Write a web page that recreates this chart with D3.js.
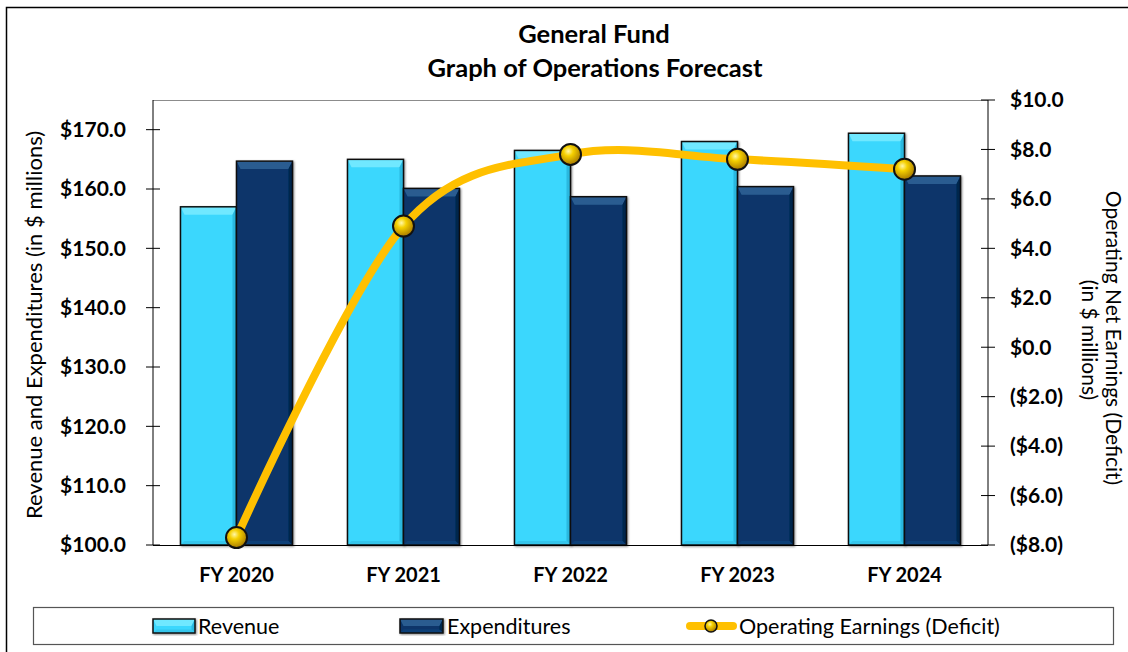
<!DOCTYPE html>
<html>
<head>
<meta charset="utf-8">
<script src="https://cdn.jsdelivr.net/npm/d3@7"></script>
<style>
  body { margin: 0; background: #fff; }
  svg text { font-family: "Lato", "Liberation Sans", sans-serif; fill: #000; }
</style>
</head>
<body>
<div id="chart"></div>
<script>
// chart data
var years = ["FY 2020", "FY 2021", "FY 2022", "FY 2023", "FY 2024"];
var revenue = [157.0, 165.0, 166.5, 168.0, 169.4];
var expenditures = [164.7, 160.1, 158.7, 160.4, 162.2];
var earnings = [-7.7, 4.9, 7.8, 7.6, 7.2];
var leftTicks = [100, 110, 120, 130, 140, 150, 160, 170];
var rightTicks = [-8, -6, -4, -2, 0, 2, 4, 6, 8, 10];

var W = 1128, H = 652;
var plot = {left: 153, right: 988, top: 100, bottom: 545};

var svg = d3.select("#chart").append("svg")
    .attr("width", W).attr("height", H);

var defs = svg.append("defs");
var ball = defs.append("radialGradient").attr("id", "ball")
    .attr("cx", "40%").attr("cy", "35%").attr("r", "65%");
ball.append("stop").attr("offset", "0%").attr("stop-color", "#fff7a8");
ball.append("stop").attr("offset", "35%").attr("stop-color", "#f5d000");
ball.append("stop").attr("offset", "100%").attr("stop-color", "#a87a00");

var shadow = defs.append("filter").attr("id", "shadow")
    .attr("x", "-20%").attr("y", "-20%").attr("width", "140%").attr("height", "140%");
shadow.append("feDropShadow").attr("dx", 1).attr("dy", 1).attr("stdDeviation", 1.2)
    .attr("flood-color", "#000").attr("flood-opacity", 0.45);

// outer chart frame (runs off the right and bottom)
svg.append("rect").attr("x", 6.5).attr("y", 7.5).attr("width", 1140).attr("height", 660)
    .attr("fill", "none").attr("stroke", "#000").attr("stroke-width", 1.5);

// title
svg.append("text").attr("x", 594).attr("y", 43).attr("text-anchor", "middle")
    .style("font-size", "25.5px").style("font-weight", "bold").text("General Fund");
svg.append("text").attr("x", 595).attr("y", 77).attr("text-anchor", "middle")
    .style("font-size", "25.5px").style("font-weight", "bold").text("Graph of Operations Forecast");

// scales
var x = d3.scaleBand().domain(years).range([plot.left, plot.right]);
var y = d3.scaleLinear().domain([100, 175]).range([plot.bottom, plot.top]);
var y2 = d3.scaleLinear().domain([-8, 10]).range([plot.bottom, plot.top]);
var barW = 56;

// plot area border (top)
svg.append("line").attr("x1", plot.left).attr("x2", plot.right)
    .attr("y1", plot.top + 0.5).attr("y2", plot.top + 0.5)
    .attr("stroke", "#8c8c8c").attr("stroke-width", 1);

// bars with bevel look
function drawBar(g, bx, by, bw, bh, base, topC, sideC, botC) {
  var b = Math.min(4, bh / 4);
  var grp = g.append("g").attr("filter", "url(#shadow)");
  grp.append("rect").attr("x", bx).attr("y", by).attr("width", bw).attr("height", bh)
      .attr("fill", base);
  grp.append("polygon").attr("points", [[bx, by], [bx + bw, by], [bx + bw - b, by + 2 * b], [bx + b, by + 2 * b]].join(" "))
      .attr("fill", topC);
  grp.append("polygon").attr("points", [[bx + bw, by], [bx + bw, by + bh], [bx + bw - b, by + bh - b], [bx + bw - b, by + 2 * b]].join(" "))
      .attr("fill", sideC);
  grp.append("polygon").attr("points", [[bx, by + bh], [bx + bw, by + bh], [bx + bw - b, by + bh - b], [bx + b, by + bh - b]].join(" "))
      .attr("fill", botC);
  grp.append("rect").attr("x", bx).attr("y", by).attr("width", bw).attr("height", bh)
      .attr("fill", "none").attr("stroke", "#111").attr("stroke-width", 1.5);
}

var bars = svg.append("g");
years.forEach(function(yr, i) {
  var cx = x(yr) + x.bandwidth() / 2;
  drawBar(bars, cx - barW, y(revenue[i]), barW, y(100) - y(revenue[i]),
      "#3bd7fd", "#6fe8ff", "#2ab8df", "#34c6ec");
  drawBar(bars, cx, y(expenditures[i]), barW, y(100) - y(expenditures[i]),
      "#07366b", "#2b5c90", "#03254c", "#0b3f78");
});

// left axis
var leftAxis = svg.append("g").attr("transform", "translate(" + plot.left + ",0)");
leftAxis.append("line").attr("y1", plot.top).attr("y2", plot.bottom)
    .attr("stroke", "#000").attr("stroke-width", 1);
leftAxis.selectAll(".tk").data(leftTicks).enter().append("line")
    .attr("x1", -7).attr("x2", 7)
    .attr("y1", function(d) { return y(d); }).attr("y2", function(d) { return y(d); })
    .attr("stroke", "#000");
leftAxis.selectAll(".lb").data(leftTicks).enter().append("text")
    .attr("x", -27).attr("y", function(d) { return y(d); }).attr("dy", "0.35em")
    .attr("text-anchor", "end")
    .style("font-size", "21px").style("font-weight", "bold")
    .text(function(d) { return "$" + d.toFixed(1); });

// right axis
var rightAxis = svg.append("g").attr("transform", "translate(" + plot.right + ",0)");
rightAxis.append("line").attr("y1", plot.top).attr("y2", plot.bottom)
    .attr("stroke", "#000").attr("stroke-width", 1);
rightAxis.selectAll(".tk").data(rightTicks).enter().append("line")
    .attr("x1", -7).attr("x2", 7)
    .attr("y1", function(d) { return y2(d); }).attr("y2", function(d) { return y2(d); })
    .attr("stroke", "#000");
rightAxis.selectAll(".lb").data(rightTicks).enter().append("text")
    .attr("x", 22).attr("y", function(d) { return y2(d); }).attr("dy", "0.35em")
    .style("font-size", "21px").style("font-weight", "bold")
    .text(function(d) {
      return d < 0 ? "($" + Math.abs(d).toFixed(1) + ")" : "$" + d.toFixed(1);
    });

// bottom axis line
svg.append("line").attr("x1", plot.left).attr("x2", plot.right)
    .attr("y1", plot.bottom + 0.5).attr("y2", plot.bottom + 0.5)
    .attr("stroke", "#000").attr("stroke-width", 1);

// category labels
svg.selectAll(".cat").data(years).enter().append("text")
    .attr("x", function(d) { return x(d) + x.bandwidth() / 2; })
    .attr("y", 582).attr("text-anchor", "middle")
    .style("font-size", "20px").style("font-weight", "bold")
    .text(function(d) { return d; });

// axis titles
svg.append("text").attr("transform", "translate(42,325) rotate(-90)")
    .attr("text-anchor", "middle").style("font-size", "22px")
    .text("Revenue and Expenditures (in $ millions)");
svg.append("text").attr("transform", "translate(1106,338) rotate(90)")
    .attr("text-anchor", "middle").style("font-size", "21px")
    .text("Operating Net Earnings (Deficit)");
svg.append("text").attr("transform", "translate(1082,340) rotate(90)")
    .attr("text-anchor", "middle").style("font-size", "21px")
    .text("(in $ millions)");

// earnings line
var pts = years.map(function(yr, i) {
  return [x(yr) + x.bandwidth() / 2, y2(earnings[i])];
});
var line = d3.line().curve(d3.curveCardinal.tension(0));
svg.append("path").attr("d", line(pts))
    .attr("fill", "none").attr("stroke", "#ffc000").attr("stroke-width", 8)
    .attr("stroke-linecap", "round");
svg.selectAll(".mk").data(pts).enter().append("circle")
    .attr("cx", function(d) { return d[0]; }).attr("cy", function(d) { return d[1]; })
    .attr("r", 10.5).attr("fill", "url(#ball)")
    .attr("stroke", "#111").attr("stroke-width", 2);

// legend
var lg = svg.append("g");
lg.append("rect").attr("x", 33.5).attr("y", 607.5).attr("width", 1080).attr("height", 37)
    .attr("fill", "#fff").attr("stroke", "#555").attr("stroke-width", 1.2);
drawBar(lg, 153, 619, 42, 14, "#3bd7fd", "#6fe8ff", "#2ab8df", "#34c6ec");
lg.append("text").attr("x", 198).attr("y", 626).attr("dy", "0.35em")
    .style("font-size", "21.5px").text("Revenue");
drawBar(lg, 400, 619, 43, 14, "#07366b", "#2b5c90", "#03254c", "#0b3f78");
lg.append("text").attr("x", 447).attr("y", 626).attr("dy", "0.35em")
    .style("font-size", "21.5px").text("Expenditures");
lg.append("line").attr("x1", 690).attr("x2", 733).attr("y1", 626).attr("y2", 626)
    .attr("stroke", "#ffc000").attr("stroke-width", 8).attr("stroke-linecap", "round");
lg.append("circle").attr("cx", 711).attr("cy", 626).attr("r", 6)
    .attr("fill", "url(#ball)").attr("stroke", "#111").attr("stroke-width", 1.5);
lg.append("text").attr("x", 739).attr("y", 626).attr("dy", "0.35em")
    .style("font-size", "21.5px").text("Operating Earnings (Deficit)");
</script>
</body>
</html>
